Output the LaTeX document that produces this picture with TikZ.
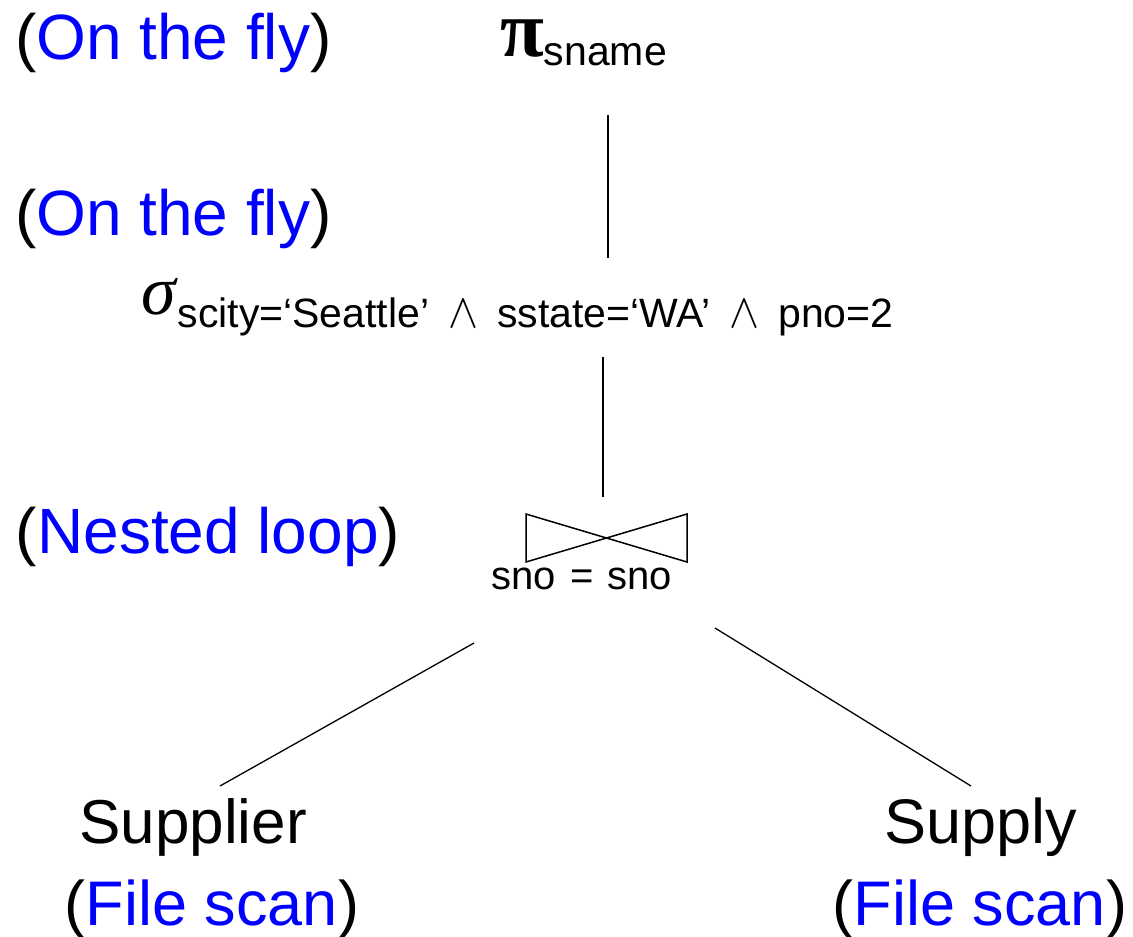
\documentclass[tikz,border=0pt]{standalone}
\usepackage{fontspec}
\usepackage{graphicx}
\setmainfont{Liberation Sans}
\newfontfamily\grkfont{Liberation Serif}
\definecolor{opblue}{RGB}{0,0,255}
\newcommand{\fsz}[1]{\fontsize{#1}{#1}\selectfont}
\newcommand{\andsym}{\hspace{19pt}\resizebox{30pt}{27pt}{$\wedge$}\hspace{19pt}}
\begin{document}
\begin{tikzpicture}[x=1pt,y=-1pt,
  txt/.style={inner sep=0pt,outer sep=0pt,anchor=base west},
  ctxt/.style={inner sep=0pt,outer sep=0pt,anchor=base},
  big/.style={font=\fsz{64}},
  edge/.style={line width=1.3pt,black},
  bow/.style={line width=1.5pt,black,line join=miter}]
\useasboundingbox (0,0) rectangle (1133,937);
% algorithm annotations
\node[txt,big] (alg1) at (15,59) {(\textcolor{opblue}{On the fly})};
\node[txt,big] (alg2) at (15,235) {(\textcolor{opblue}{On the fly})};
\node[txt,big] (alg3) at (16,553) {(\textcolor{opblue}{Nested loop})};
% projection
\node[txt] (proj) at (500,65) {\raisebox{9pt}{\smash{\fsz{80}\grkfont\bfseries π}}{\fsz{41}sname}};
% selection
\node[txt] (sel) at (141,327) {\raisebox{13pt}{\fsz{70}\grkfont\itshape σ}\hspace{2pt}{\fsz{41}scity=‘Seattle’\andsym{}sstate=‘WA’\andsym{}pno=2}};
% join
\coordinate (join) at (606.5,538);
\draw[bow] (526,514) -- (687,562) -- (687,514) -- (526,562) -- cycle;
\node[ctxt] (cond) at (582,589) {\fsz{40}sno\hspace{3pt} = \hspace{3pt}sno};
% relations
\node[ctxt] (rel1) at (193,843) {\fsz{62}Supplier};
\node[ctxt] (scan1) at (212,925) {\fsz{63}(\textcolor{opblue}{File scan})};
\node[ctxt] (rel2) at (981,843) {\fsz{63}Supply};
\node[ctxt] (scan2) at (980,925) {\fsz{63}(\textcolor{opblue}{File scan})};
% connector end points
\coordinate (a1) at (608,115);
\coordinate (a2) at (608,258);
\coordinate (b1) at (603,357);
\coordinate (b2) at (603,497);
\coordinate (c1) at (474,643);
\coordinate (c2) at (220,786);
\coordinate (d1) at (715,628);
\coordinate (d2) at (971,786);
\draw[edge] (a1) -- (a2);
\draw[edge] (b1) -- (b2);
\draw[edge] (c1) -- (c2);
\draw[edge] (d1) -- (d2);
\end{tikzpicture}
\end{document}
